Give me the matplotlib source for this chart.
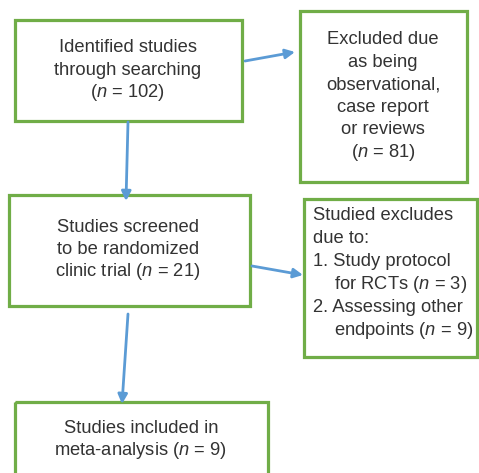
#!/usr/bin/env python

""" flow diagram of study selection """

import matplotlib
matplotlib.use("Agg")
import matplotlib.pyplot as plt
from matplotlib.patches import Rectangle

N = r"$\mathit{n}$"

box1_lines = ["Identified studies", "through searching", "(%s = 102)" % N]
box2_lines = ["Excluded due", "as being", "observational,", "case report",
              "or reviews", "(%s = 81)" % N]
box3_lines = ["Studies screened", "to be randomized",
              "clinic trial (%s = 21)" % N]
box4_lines = ["Studied excludes", "due to:", "1. Study protocol",
              "for RCTs (%s = 3)" % N, "2. Assessing other",
              "endpoints (%s = 9)" % N]
box4_indent = [0, 0, 0, 1, 0, 1]
box5_lines = ["Studies included in", "meta-analysis (%s = 9)" % N]


def main():
    plt.rcParams['font.family'] = ['Liberation Sans', 'DejaVu Sans']
    plt.rcParams['mathtext.fontset'] = 'custom'
    plt.rcParams['mathtext.it'] = 'Liberation Sans:italic'
    plt.rcParams['mathtext.rm'] = 'Liberation Sans'

    green = "#70AD47"
    blue = "#5B9BD5"
    tcol = "#333333"
    fs = 13.2
    pitch = 22.4

    fig = plt.figure(figsize=(4.79, 4.73), dpi=100)
    ax = fig.add_axes([0, 0, 1, 1])
    ax.set_xlim(0, 479)
    ax.set_ylim(473, 0)
    ax.axis("off")

    # boxes: x0, y0, x1, y1 in pixels
    boxes = [(15, 20, 242, 121), (300, 11, 467, 182), (9, 195, 250, 306),
             (304, 199, 477, 357), (15, 402, 268, 478)]
    for x0, y0, x1, y1 in boxes:
        ax.add_patch(Rectangle((x0, y0), x1 - x0, y1 - y0, fill=False,
                               edgecolor=green, lw=2.3, clip_on=False))

    def centred(lines, xc, ytop):
        for i, s in enumerate(lines):
            ax.text(xc, ytop + i * pitch, s, ha="center", va="center",
                    fontsize=fs, color=tcol)

    centred(box1_lines, 128, 48)
    centred(box2_lines, 383, 40)
    centred(box3_lines, 128, 227)
    centred(box5_lines, 141, 428)
    for i, s in enumerate(box4_lines):
        ax.text(313 + 21 * box4_indent[i], 215 + i * 23.0, s, ha="left",
                va="center", fontsize=fs, color=tcol)

    arrows = [((245, 61), (295, 52)), ((128, 122), (126, 201)),
              ((252, 266), (303, 275)), ((128, 314), (122, 404))]
    for (xs, ys), (xe, ye) in arrows:
        ax.annotate("", xy=(xe, ye), xytext=(xs, ys),
                    arrowprops=dict(arrowstyle="-|>", color=blue, lw=2.0,
                                    mutation_scale=14, shrinkA=0, shrinkB=0))

    fig.savefig("out.png", dpi=100)

if __name__ == "__main__":

    main()
